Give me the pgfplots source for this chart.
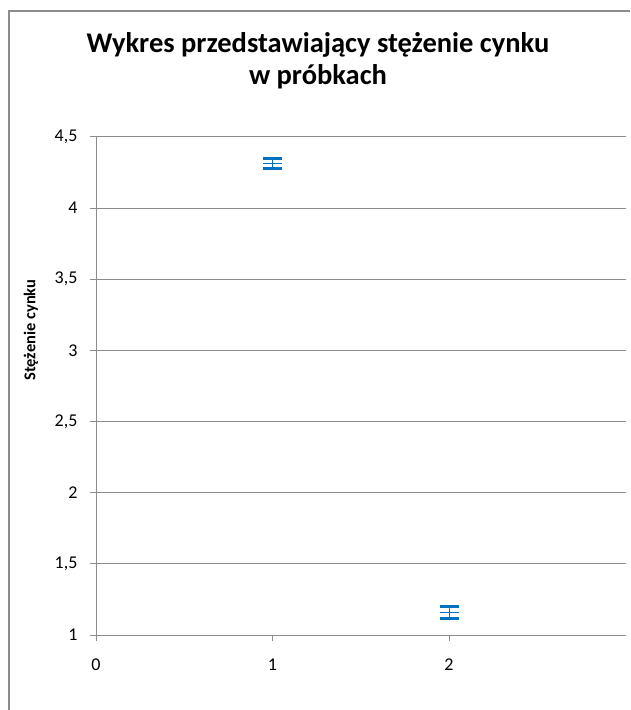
\documentclass[border=0pt]{standalone}
\usepackage{pgfplots}
\pgfplotsset{compat=1.18}
\usepackage{fontspec}
\setmainfont{Carlito}
\definecolor{xblue}{HTML}{0070C0}
\definecolor{xgray}{HTML}{8C8C8C}
\begin{document}
\begin{tikzpicture}[x=1pt,y=1pt]
\useasboundingbox (0,0) rectangle (630,710);
\draw[xgray, line width=1.5pt] (9,0) -- (9,699) -- (630,699);
\node[font=\bfseries\fontsize{28.5}{32}\selectfont, align=center] at (318,649) {Wykres przedstawiający stężenie cynku\\w próbkach};
\node[font=\bfseries\fontsize{16.5}{19}\selectfont, rotate=90] at (31,380) {Stężenie cynku};
\begin{axis}[
  at={(96pt,75pt)}, anchor=south west,
  scale only axis, width=529.5pt, height=498pt,
  xmin=0, xmax=3, ymin=1, ymax=4.5,
  xtick={0,1,2}, ytick={1,1.5,2,2.5,3,3.5,4,4.5},
  axis x line=bottom, axis y line=left,
  axis line style={xgray, line width=1pt, -},
  ymajorgrids, grid style={xgray, line width=1pt},
  tick style={xgray, line width=1pt},
  tick align=outside, major tick length=6pt,
  /pgf/number format/assume math mode=true,
  /pgf/number format/use comma,
  xticklabel={\fontsize{18}{21}\selectfont\pgfmathprintnumber{\tick}},
  yticklabel={\fontsize{18}{21}\selectfont\pgfmathprintnumber[fixed,precision=1,use comma]{\tick}},
  xticklabel style={yshift=-14pt},
  yticklabel style={xshift=-9pt},
  clip=false,
]
\addplot[only marks, xblue, mark=-, mark size=9.5pt, mark options={line width=1pt},
  error bars/.cd, y dir=both, y explicit,
  error bar style={xblue, line width=1pt},
  error mark options={xblue, line width=3pt, mark size=9.5pt, rotate=90}]
  coordinates {(1,4.317) +- (0,0.035) (2,1.158) +- (0,0.045)};
\end{axis}
\end{tikzpicture}
\end{document}
